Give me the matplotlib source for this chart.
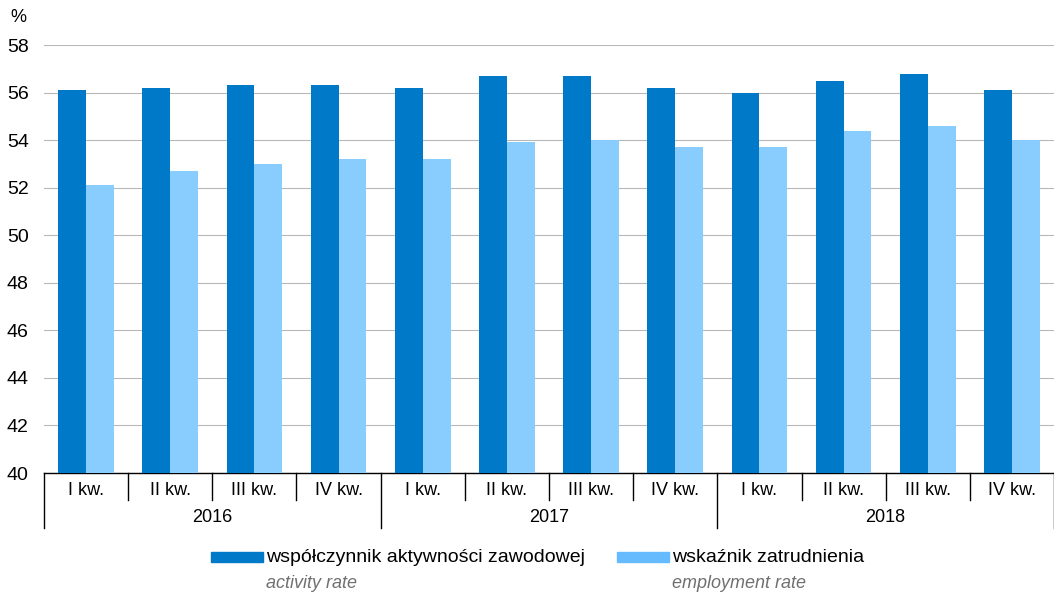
import numpy as np
import matplotlib.pyplot as plt
from matplotlib.patches import Rectangle

plt.rcParams['font.family'] = ['Liberation Sans', 'DejaVu Sans']

quarters = ['I kw.', 'II kw.', 'III kw.', 'IV kw.'] * 3
years = ['2016', '2017', '2018']
activity = [56.1, 56.2, 56.3, 56.3, 56.2, 56.7, 56.7, 56.2, 56.0, 56.5, 56.8, 56.1]
employment = [52.1, 52.7, 53.0, 53.2, 53.2, 53.9, 54.0, 53.7, 53.7, 54.4, 54.6, 54.0]

DARK = '#0079c9'
LIGHT = '#89cdff'

fig = plt.figure(figsize=(10.54, 5.93), dpi=100)
ax = fig.add_axes([44/1054, 1 - 473/593, 1 - 44/1054, 428/593])

x = np.arange(len(quarters))
w = 0.33
ax.bar(x - w/2, activity, w, color=DARK, zorder=3)
ax.bar(x + w/2, employment, w, color=LIGHT, zorder=3)

ax.set_xlim(-0.5, len(quarters) - 0.5)
ax.set_ylim(40, 58)
ax.set_yticks(np.arange(40, 59, 2))
ax.tick_params(axis='y', length=0, labelsize=14, pad=11)
ax.yaxis.grid(True, color='#b8b8b8', linewidth=0.8, zorder=0)
for s in ['top', 'right', 'left']:
    ax.spines[s].set_visible(False)
ax.spines['bottom'].set_color('black')
ax.spines['bottom'].set_linewidth(1)

ax.set_xticks([])
trans = ax.get_xaxis_transform()
for i, q in enumerate(quarters):
    ax.text(i, -0.04, q, transform=trans, ha='center', va='center', fontsize=13)
# quarter separators
for b in np.arange(0.5, len(quarters) - 0.5, 1.0):
    if b in (3.5, 7.5):
        continue
    ax.plot([b, b], [0, -0.063], transform=trans, color='black', lw=1, clip_on=False)
# year separators
for b in [-0.5, 3.5, 7.5, 11.5]:
    ax.plot([b, b], [0, -0.128], transform=trans, color='black', lw=1, clip_on=False)
for k, yr in enumerate(years):
    ax.text(4*k + 1.5, -0.105, yr, transform=trans, ha='center', va='center', fontsize=13)

fig.text(18/1054, 1 - 18/593, '%', ha='center', va='center', fontsize=13)

# legend
def legend_item(x0, x1, label, sub, color):
    fig.patches.append(Rectangle((x0/1054, 1 - 562/593), (x1 - x0)/1054, 10/593,
                                 transform=fig.transFigure, color=color))
    fig.text((x1 + 3)/1054, 1 - 557/593, label, ha='left', va='center', fontsize=14)
    fig.text((x1 + 3)/1054, 1 - 583/593, sub, ha='left', va='center', fontsize=13,
             style='italic', color='#707070')

legend_item(211, 263, 'współczynnik aktywności zawodowej', 'activity rate', DARK)
legend_item(617, 669, 'wskaźnik zatrudnienia', 'employment rate', '#66bbff')

fig.savefig('out.png', dpi=100)
